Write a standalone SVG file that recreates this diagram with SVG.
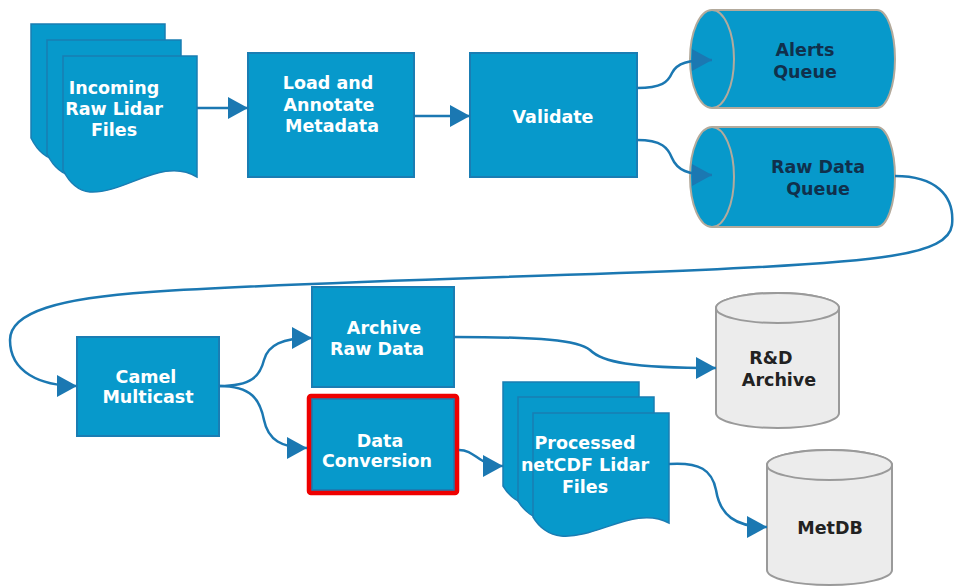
<svg xmlns="http://www.w3.org/2000/svg" width="954" height="586" viewBox="0 0 954 586">
  <style>
    .box { fill: #0799cb; stroke: #1a7db3; stroke-width: 2; }
    .sheet { fill: #0799cb; stroke: #1a7db3; stroke-width: 1.5; }
    .queue { fill: #0799cb; stroke: #b3aa9c; stroke-width: 2; }
    .db { fill: #ececec; stroke: #9a9a9a; stroke-width: 2; }
    .wire { fill: none; stroke: #1b78b2; stroke-width: 2.5; }
    text { font-family: "DejaVu Sans", Verdana, sans-serif; font-weight: bold; font-size: 17.5px; text-anchor: middle; }
    .lt { fill: #ffffff; }
    .dk { fill: #10304c; }
    .bk { fill: #222222; }
  </style>
  <defs>
    <marker id="arrow" markerUnits="userSpaceOnUse" markerWidth="22" markerHeight="24" refX="20" refY="11" orient="auto">
      <path d="M0,0 L20,11 L0,22 Z" fill="#1b78b2"/>
    </marker>
    <path id="sheet" d="M0,0 H134 V121 C100,100 62,138 27,136 C15,135 6,126 0,114 Z"/>
    <path id="sheet-short" d="M0,0 H136 V110 C102,92 64,126 28,123 C16,122 6,114 0,104 Z"/>
  </defs>

  <!-- Incoming Raw Lidar Files -->
  <g id="incoming">
    <use href="#sheet" class="sheet" x="31" y="24"/>
    <use href="#sheet" class="sheet" x="47" y="40"/>
    <use href="#sheet" class="sheet" x="63" y="56"/>
    <text class="lt" x="114" y="94">Incoming</text>
    <text class="lt" x="114" y="115">Raw Lidar</text>
    <text class="lt" x="114" y="136">Files</text>
  </g>

  <g id="load">
    <rect class="box" x="248" y="53" width="166" height="124"/>
    <text class="lt" x="328" y="89">Load and</text>
    <text class="lt" x="329" y="111">Annotate</text>
    <text class="lt" x="332" y="132">Metadata</text>
  </g>

  <g id="validate">
    <rect class="box" x="470" y="53" width="167" height="124"/>
    <text class="lt" x="553" y="123">Validate</text>
  </g>

  <g id="alerts-queue">
    <path class="queue" d="M712,10 H877 A18,49 0 0 1 877,108 H712 A22,49 0 0 1 712,10 Z"/>
    <path class="queue" d="M712,10 A22,49 0 0 1 712,108" fill="none"/>
    <text class="dk" x="805" y="56">Alerts</text>
    <text class="dk" x="805" y="78">Queue</text>
  </g>

  <g id="raw-data-queue">
    <path class="queue" d="M712,127 H877 A18,50 0 0 1 877,227 H712 A22,50 0 0 1 712,127 Z"/>
    <path class="queue" d="M712,127 A22,50 0 0 1 712,227" fill="none"/>
    <text class="dk" x="818" y="173">Raw Data</text>
    <text class="dk" x="818" y="195">Queue</text>
  </g>

  <g id="camel-multicast">
    <rect class="box" x="77" y="337" width="142" height="99"/>
    <text class="lt" x="146" y="383">Camel</text>
    <text class="lt" x="148" y="403">Multicast</text>
  </g>

  <g id="archive-raw-data">
    <rect class="box" x="312" y="287" width="142" height="100"/>
    <text class="lt" x="384" y="334">Archive</text>
    <text class="lt" x="377" y="355">Raw Data</text>
  </g>

  <g id="data-conversion">
    <rect class="box" x="312" y="399" width="142" height="91"/>
    <rect x="309" y="396" width="148" height="97" rx="2" fill="none" stroke="#ee0000" stroke-width="4.5"/>
    <text class="lt" x="380" y="447">Data</text>
    <text class="lt" x="377" y="467">Conversion</text>
  </g>

  <g id="processed-files">
    <use href="#sheet-short" class="sheet" x="503" y="382"/>
    <use href="#sheet-short" class="sheet" x="518" y="397"/>
    <use href="#sheet-short" class="sheet" x="533" y="413"/>
    <text class="lt" x="585" y="449">Processed</text>
    <text class="lt" x="585" y="471">netCDF Lidar</text>
    <text class="lt" x="585" y="493">Files</text>
  </g>

  <g id="rd-archive">
    <path class="db" d="M716,308 V413 A61.5,15 0 0 0 839,413 V308 A61.5,15 0 0 0 716,308 Z"/>
    <ellipse class="db" cx="777.5" cy="308" rx="61.5" ry="15"/>
    <text class="bk" x="771" y="364">R&amp;D</text>
    <text class="bk" x="779" y="386">Archive</text>
  </g>

  <g id="metdb">
    <path class="db" d="M767,465 V570 A62.5,15 0 0 0 892,570 V465 A62.5,15 0 0 0 767,465 Z"/>
    <ellipse class="db" cx="829.5" cy="465" rx="62.5" ry="15"/>
    <text class="bk" x="830" y="534">MetDB</text>
  </g>

  <!-- connectors, drawn last so the queue arrowheads sit over the cylinder caps -->
  <g id="connectors">
    <path class="wire" d="M197,108 H248" marker-end="url(#arrow)"/>
    <path class="wire" d="M414,116 H470" marker-end="url(#arrow)"/>
    <path class="wire" d="M637,88 C662,88 668,82 672,73 C677,63 688,60 712,60" marker-end="url(#arrow)"/>
    <path class="wire" d="M637,140 C662,140 668,148 672,158 C677,170 688,175 712,175" marker-end="url(#arrow)"/>
    <path class="wire" d="M895,176 C935,176 955,195 952,225 C948,255 880,262 700,270 C500,278 300,282 150,292 C60,298 10,312 10,340 C10,372 40,386 77,386" marker-end="url(#arrow)"/>
    <path class="wire" d="M219,386 C252,386 260,376 264,360 C268,345 282,338 312,338" marker-end="url(#arrow)"/>
    <path class="wire" d="M219,386 C252,386 260,400 264,420 C268,440 282,448 307,448" marker-end="url(#arrow)"/>
    <path class="wire" d="M454,337 C540,337 578,340 590,350 C602,362 630,368 716,368" marker-end="url(#arrow)"/>
    <path class="wire" d="M459,450 C476,450 478,466 503,466" marker-end="url(#arrow)"/>
    <path class="wire" d="M669,464 C700,462 712,470 716,490 C720,515 735,527 767,527" marker-end="url(#arrow)"/>
  </g>
</svg>
